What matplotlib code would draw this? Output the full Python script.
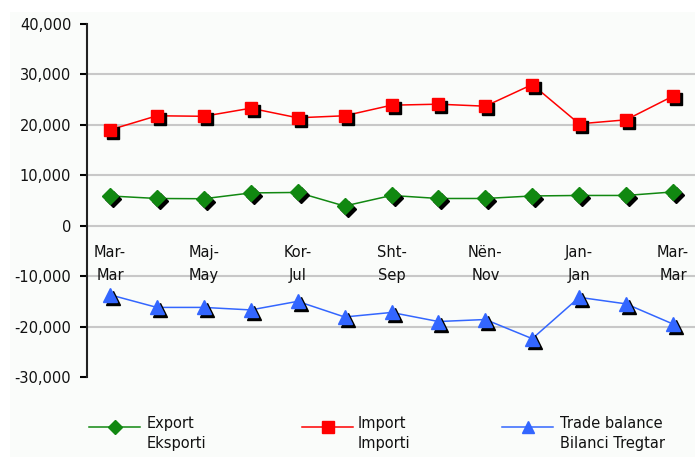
import numpy as np
import matplotlib
matplotlib.use("Agg")
import matplotlib.pyplot as plt
import matplotlib.transforms as mtransforms
from matplotlib.lines import Line2D
from matplotlib.patches import Rectangle

# data
months = ["Mar-\nMar", "", "Maj-\nMay", "", "Kor-\nJul", "", "Sht-\nSep", "",
          "Nën-\nNov", "", "Jan-\nJan", "", "Mar-\nMar"]
export_vals = [5900, 5400, 5350, 6500, 6600, 3900, 6000, 5400, 5400, 5900, 6000, 6000, 6700]
import_vals = [19000, 21800, 21700, 23300, 21400, 21800, 23900, 24100, 23700, 28000, 20200, 21000, 25700]
balance_vals = [-13700, -16200, -16200, -16700, -15000, -18100, -17200, -19000, -18600, -22400, -14200, -15500, -19500]
yticks = [-30000, -20000, -10000, 0, 10000, 20000, 30000, 40000]

series = [
    (export_vals, "#118811", "D", 8, "Export\nEksporti"),
    (import_vals, "#FF0000", "s", 8.5, "Import\nImporti"),
    (balance_vals, "#3366FF", "^", 9.5, "Trade balance\nBilanci Tregtar"),
]

plt.rcParams['font.family'] = ['DejaVu Sans']
fig = plt.figure(figsize=(6.95, 4.57), dpi=100)
fig.patch.set_facecolor("white")
# light panel behind the chart
fig.add_artist(Rectangle((10/695, 0), 1, 1 - 12/457, transform=fig.transFigure,
                         facecolor="#FAFCFA", edgecolor="none", zorder=-10))

ax = fig.add_axes([86.5/695, 80/457, 610/695, 353/457])
ax.set_facecolor("none")
x = np.arange(len(months))

shadow = mtransforms.offset_copy(ax.transData, fig=fig, x=3, y=-3, units='dots')
for vals, col, mk, ms, lab in series:
    ax.plot(x, vals, color=col, lw=1.1, zorder=3)
    ax.plot(x, vals, ls="none", marker=mk, ms=ms, color="black", mec="black",
            transform=shadow, zorder=4)
    ax.plot(x, vals, ls="none", marker=mk, ms=ms, color=col, mec=col, zorder=5)

ax.set_xlim(-0.5, 12.5)
ax.set_ylim(-30000, 40000)
ax.set_yticks(yticks)
ax.set_yticklabels([f"{v:,}" for v in yticks], fontsize=10.5, color="#111111")
ax.tick_params(axis="y", direction="out", length=5, width=1.5, pad=6)
ax.set_xticks([])
for v in yticks[1:-1]:
    ax.axhline(v, color="#C8C8C8", lw=1.5, zorder=1, clip_on=False)
for s in ["top", "right", "bottom"]:
    ax.spines[s].set_visible(False)
ax.spines["left"].set_linewidth(1.5)
ax.spines["left"].set_color("#222222")

# category labels sit just under the zero line
for i, m in enumerate(months):
    if m:
        ax.annotate(m, (i, 0), xytext=(0, -14), textcoords="offset points",
                    ha="center", va="top", fontsize=10.5, linespacing=1.65,
                    color="#111111", zorder=6)

# legend drawn by hand so handle lines up with first text line
leg_x = [(89, 140, 147), (302, 353, 358), (502, 553, 560)]
leg_y = 1 - 427/457
for (vals, col, mk, ms, lab), (x0, x1, xt) in zip(series, leg_x):
    fig.add_artist(Line2D([x0/695, x1/695], [leg_y, leg_y], transform=fig.transFigure,
                          color=col, lw=1.1))
    fig.add_artist(Line2D([(x0 + x1)/2/695], [leg_y], transform=fig.transFigure,
                          marker=mk, ms=ms - 0.5, color=col, mec=col, ls="none"))
    fig.text(xt/695, 1 - 416/457, lab, ha="left", va="top", fontsize=10.5,
             linespacing=1.4, color="#111111")

fig.savefig("out.png", dpi=100, facecolor=fig.get_facecolor())
